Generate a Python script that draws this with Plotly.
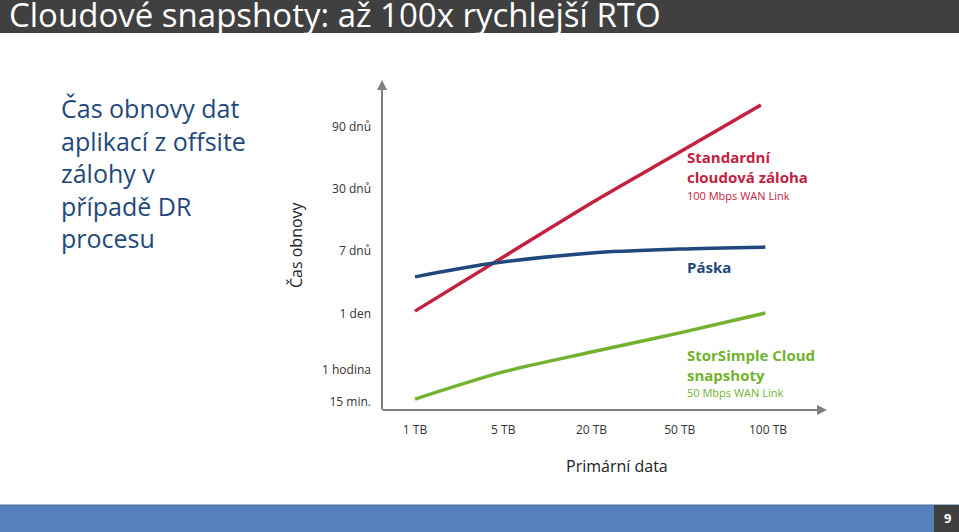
import plotly.graph_objects as go

# ---- data ----
categories = ["1 TB", "5 TB", "20 TB", "50 TB", "100 TB"]
x_idx = [0, 1, 2, 3, 4]
y_tick_labels = ["15 min.", "1 hodina", "1 den", "7 dnů", "30 dnů", "90 dnů"]
y_tick_vals = [0.25, 1.25, 3.0, 4.97, 6.91, 8.84]

red_x = [0, 1, 2, 3, 3.92]
red_y = [3.09, 4.78, 6.47, 8.06, 9.53]          # Standardní cloudová záloha
blue_x = [0, 0.82, 2, 3, 3.97]
blue_y = [4.16, 4.56, 4.91, 5.03, 5.09]         # Páska
green_x = [0, 1, 2, 3, 3.97]
green_y = [0.34, 1.19, 1.81, 2.41, 3.03]        # StorSimple

RED = "#c4203f"
BLUE = "#1f497d"
GREEN = "#72b22e"
GRAY = "#808080"
FONT = "Open Sans"

W, H = 959, 532
L, R, T, B = 382, 827, 82, 410


def px(x):
    return (x - L) / (R - L)


def py(y):
    return (B - y) / (B - T)


fig = go.Figure()
for xs, ys, c in [(red_x, red_y, RED), (blue_x, blue_y, BLUE), (green_x, green_y, GREEN)]:
    fig.add_trace(go.Scatter(x=xs, y=ys, mode="lines",
                             line=dict(color=c, width=3.5, shape="spline", smoothing=0.8),
                             hoverinfo="skip", showlegend=False))

shapes = [
    dict(type="rect", xref="paper", yref="paper", x0=px(0), x1=px(W), y0=py(33), y1=py(0),
         fillcolor="#404040", line_width=0, layer="below"),
    dict(type="rect", xref="paper", yref="paper", x0=px(0), x1=px(W), y0=py(H), y1=py(505),
         fillcolor="#5680bb", line_width=0, layer="below"),
    dict(type="line", xref="paper", yref="paper", x0=px(0), x1=px(W), y0=py(505), y1=py(505),
         line=dict(color="#4a6e9e", width=1)),
    dict(type="rect", xref="paper", yref="paper", x0=px(934), x1=px(W), y0=py(H), y1=py(505),
         fillcolor="#404040", line_width=0),
]

ann = []
# axis arrows
ann.append(dict(xref="paper", yref="paper", axref="pixel", ayref="pixel",
                x=px(827), y=py(410), ax=-(827 - 381), ay=0, showarrow=True,
                arrowhead=2, arrowsize=1, arrowwidth=2, arrowcolor=GRAY, text=""))
ann.append(dict(xref="paper", yref="paper", axref="pixel", ayref="pixel",
                x=px(382), y=py(80), ax=0, ay=(411 - 80), showarrow=True,
                arrowhead=2, arrowsize=1, arrowwidth=2, arrowcolor=GRAY, text=""))
# title
ann.append(dict(xref="paper", yref="paper", x=px(7), y=py(15), xanchor="left", yanchor="middle",
                text="Cloudové snapshoty: až 100x rychlejší RTO", showarrow=False,
                font=dict(family=FONT, size=33, color="white")))
# page number
ann.append(dict(xref="paper", yref="paper", x=px(947), y=py(518), xanchor="center", yanchor="middle",
                text="<b>9</b>", showarrow=False, font=dict(family=FONT, size=13, color="white")))
# left text
ann.append(dict(xref="paper", yref="paper", x=px(59), y=py(89), xanchor="left", yanchor="top",
                align="left", showarrow=False,
                text="Čas obnovy dat<br>aplikací z offsite<br>zálohy v<br>případě DR<br>procesu",
                font=dict(family=FONT, size=25, color=BLUE)))
# y axis title
ann.append(dict(xref="paper", yref="paper", x=px(296), y=py(245), textangle=-90,
                xanchor="center", yanchor="middle", showarrow=False, text="Čas obnovy",
                font=dict(family=FONT, size=16, color="#222222")))
# x axis title
ann.append(dict(xref="paper", yref="paper", x=px(617), y=py(466), xanchor="center", yanchor="middle",
                showarrow=False, text="Primární data", font=dict(family=FONT, size=16, color="#222222")))
# series labels
ann.append(dict(xref="paper", yref="paper", x=px(685), y=py(145), xanchor="left", yanchor="top",
                align="left", showarrow=False,
                text="<b>Standardní<br>cloudová záloha</b>",
                font=dict(family=FONT, size=15, color=RED)))
ann.append(dict(xref="paper", yref="paper", x=px(685), y=py(195), xanchor="left", yanchor="middle",
                showarrow=False, text="100 Mbps WAN Link", font=dict(family=FONT, size=11, color=RED)))
ann.append(dict(xref="paper", yref="paper", x=px(685), y=py(267), xanchor="left", yanchor="middle",
                showarrow=False, text="<b>Páska</b>", font=dict(family=FONT, size=15, color=BLUE)))
ann.append(dict(xref="paper", yref="paper", x=px(685), y=py(343), xanchor="left", yanchor="top",
                align="left", showarrow=False,
                text="<b>StorSimple Cloud<br>snapshoty</b>",
                font=dict(family=FONT, size=15, color=GREEN)))
ann.append(dict(xref="paper", yref="paper", x=px(685), y=py(392), xanchor="left", yanchor="middle",
                showarrow=False, text="50 Mbps WAN Link", font=dict(family=FONT, size=11, color=GREEN)))

fig.update_layout(
    width=W, height=H,
    margin=dict(l=L, r=W - R, t=T, b=H - B, pad=0),
    paper_bgcolor="white", plot_bgcolor="white",
    shapes=shapes, annotations=ann,
    font=dict(family=FONT, size=12, color="#333333"),
    xaxis=dict(range=[-0.374, 4.669], tickvals=x_idx, ticktext=categories, showgrid=False,
               zeroline=False, showline=False, ticks="", ticklabelstandoff=11,
               tickfont=dict(family=FONT, size=12, color="#333333"), fixedrange=True),
    yaxis=dict(range=[0, 10.25], tickvals=y_tick_vals, ticktext=y_tick_labels, showgrid=False,
               zeroline=False, showline=False, ticks="", ticklabelstandoff=10,
               tickfont=dict(family=FONT, size=12, color="#333333"), fixedrange=True),
)

fig.write_html("out.html")
